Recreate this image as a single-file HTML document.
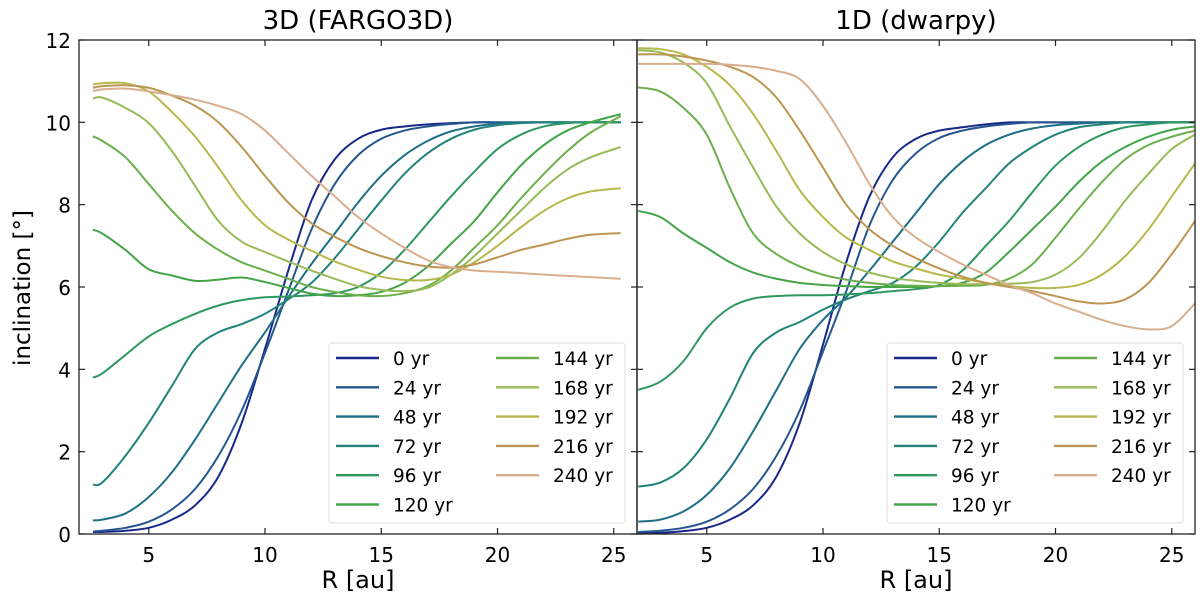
<!DOCTYPE html>
<html><head><meta charset="utf-8"><style>
html,body{margin:0;padding:0;background:#fff;}
svg{display:block;font-family:"DejaVu Sans","Liberation Sans",sans-serif;}
</style></head><body>
<svg id="chart" width="1200" height="604" viewBox="0 0 1200 604"></svg>
<script>
const labels = ["0 yr","24 yr","48 yr","72 yr","96 yr","120 yr","144 yr","168 yr","192 yr","216 yr","240 yr"];
const colors = ["#18288a","#25568f","#1f6f86","#21837a","#2f9860","#44a548","#6aaf4c","#98bb58","#b7b84c","#bb9552","#d9ae8e"];
const xTicks = [5,10,15,20,25];
const yTicks = [0,2,4,6,8,10,12];
const panelTitles = ["3D (FARGO3D)","1D (dwarpy)"];

// Left panel (3D) radius grid and series
const rL = [2.6,3,4,5,6,7,8,9,10,11,12,13,14,15,16,17,18,19,20,21,22,23,24,25.3];
const seriesL = [
 [0.05,0.05,0.08,0.15,0.35,0.7,1.4,2.7,4.5,6.4,8.1,9.1,9.6,9.82,9.9,9.95,9.98,10,10,10,10,10,10,10],
 [0.06,0.08,0.15,0.3,0.6,1.1,1.9,3.0,4.4,5.9,7.4,8.5,9.2,9.6,9.8,9.9,9.96,10,10,10,10,10,10,10],
 [0.33,0.35,0.5,0.9,1.5,2.3,3.2,4.1,4.9,5.75,6.56,7.3,8.05,8.7,9.2,9.55,9.78,9.9,9.97,10,10,10,10,10],
 [1.2,1.25,1.9,2.7,3.6,4.5,4.9,5.1,5.35,5.7,6.1,6.7,7.4,8.1,8.75,9.25,9.6,9.82,9.93,9.98,10,10,10,10],
 [3.8,3.9,4.35,4.8,5.1,5.35,5.55,5.68,5.75,5.77,5.8,5.85,6.0,6.35,6.9,7.55,8.2,8.8,9.35,9.7,9.9,9.98,10,10],
 [7.39,7.3,6.9,6.43,6.28,6.15,6.18,6.23,6.12,5.98,5.84,5.78,5.8,5.88,6.1,6.5,7.05,7.6,8.3,8.95,9.45,9.8,10.0,10.2],
 [9.66,9.55,9.15,8.5,7.85,7.3,6.9,6.6,6.4,6.2,6.0,5.88,5.8,5.78,5.85,6.02,6.4,6.95,7.5,8.15,8.75,9.3,9.75,10.15],
 [10.58,10.6,10.35,9.98,9.3,8.45,7.6,7.1,6.85,6.62,6.4,6.2,6.02,5.93,5.9,5.98,6.3,6.75,7.3,7.85,8.4,8.85,9.15,9.4],
 [10.92,10.95,10.95,10.75,10.25,9.65,8.9,8.1,7.5,7.15,6.88,6.62,6.42,6.25,6.17,6.17,6.3,6.6,7.0,7.45,7.85,8.15,8.32,8.4],
 [10.84,10.88,10.9,10.84,10.65,10.4,10.0,9.4,8.7,8.05,7.55,7.22,6.95,6.75,6.6,6.5,6.47,6.55,6.72,6.9,7.03,7.17,7.27,7.31],
 [10.76,10.8,10.82,10.75,10.66,10.55,10.4,10.2,9.8,9.25,8.7,8.2,7.7,7.3,6.95,6.65,6.48,6.4,6.37,6.34,6.3,6.27,6.24,6.2]
];

// Right panel (1D) radius grid and series
const rR = [2.05,3,4,5,6,7,8,9,10,11,12,13,14,15,16,17,18,19,20,21,22,23,24,25,26];
const seriesR = [
 [0.02,0.03,0.07,0.15,0.35,0.7,1.4,2.7,4.6,6.6,8.2,9.15,9.6,9.8,9.88,9.95,10,10,10,10,10,10,10,10,10],
 [0.05,0.08,0.15,0.3,0.6,1.1,1.9,3.0,4.43,5.9,7.5,8.6,9.25,9.62,9.8,9.9,9.96,10,10,10,10,10,10,10,10],
 [0.3,0.35,0.55,0.95,1.6,2.5,3.5,4.5,5.2,5.75,6.4,7.1,7.8,8.5,9.05,9.45,9.7,9.85,9.93,9.97,10,10,10,10,10],
 [1.15,1.25,1.6,2.3,3.3,4.4,4.9,5.15,5.45,5.7,5.9,6.1,6.5,7.1,7.8,8.4,9.0,9.4,9.7,9.88,9.95,10,10,10,10],
 [3.5,3.7,4.2,5.0,5.5,5.72,5.78,5.8,5.8,5.82,5.85,5.9,5.95,6.05,6.4,7.0,7.6,8.3,8.95,9.4,9.7,9.88,9.95,10,10],
 [7.85,7.7,7.3,6.95,6.6,6.35,6.2,6.1,6.05,6.02,6.0,6.0,6.0,6.02,6.1,6.35,6.85,7.4,7.95,8.55,9.05,9.4,9.65,9.82,9.9],
 [10.85,10.75,10.35,9.7,8.4,7.3,6.8,6.5,6.3,6.18,6.1,6.05,6.03,6.02,6.03,6.05,6.2,6.55,7.2,7.9,8.55,9.1,9.45,9.65,9.8],
 [11.75,11.7,11.45,10.95,9.9,8.9,7.95,7.3,6.85,6.55,6.35,6.22,6.15,6.1,6.07,6.07,6.08,6.12,6.3,6.7,7.35,8.1,8.75,9.35,9.7],
 [11.8,11.78,11.65,11.35,10.9,10.2,9.3,8.35,7.7,7.2,6.9,6.62,6.45,6.3,6.2,6.1,6.02,5.98,5.98,6.05,6.3,6.75,7.4,8.2,9.0],
 [11.65,11.65,11.6,11.5,11.35,11.1,10.6,9.8,8.9,8.0,7.4,7.0,6.7,6.45,6.25,6.1,6.0,5.9,5.78,5.65,5.6,5.7,6.1,6.8,7.6],
 [11.42,11.42,11.42,11.42,11.4,11.35,11.25,11.05,10.4,9.5,8.5,7.7,7.2,6.85,6.55,6.3,6.05,5.85,5.6,5.4,5.2,5.05,4.97,5.05,5.6]
];

const NS = "http://www.w3.org/2000/svg";
const svg = document.getElementById("chart");
const X0 = 2.0, X1 = 26.0, Y0 = 0, Y1 = 12;
const panels = [{left:79, right:637, r:rL, s:seriesL}, {left:637, right:1195, r:rR, s:seriesR}];
const TOP = 40, BOT = 534;

function mk(tag, attrs, parent){ const e = document.createElementNS(NS, tag); for (const k in attrs) e.setAttribute(k, attrs[k]); (parent||svg).appendChild(e); return e; }
function sx(p, v){ return p.left + (v - X0) / (X1 - X0) * (p.right - p.left); }
function sy(v){ return BOT - (v - Y0) / (Y1 - Y0) * (BOT - TOP); }
function smoothPath(pts){
  let d = "M" + pts[0][0].toFixed(2) + "," + pts[0][1].toFixed(2);
  for (let i = 0; i < pts.length - 1; i++) {
    const p0 = pts[Math.max(0,i-1)], p1 = pts[i], p2 = pts[i+1], p3 = pts[Math.min(pts.length-1,i+2)];
    const c1x = p1[0] + (p2[0]-p0[0])/6, c1y = p1[1] + (p2[1]-p0[1])/6;
    const c2x = p2[0] - (p3[0]-p1[0])/6, c2y = p2[1] - (p3[1]-p1[1])/6;
    d += " C" + c1x.toFixed(2)+","+c1y.toFixed(2)+" "+c2x.toFixed(2)+","+c2y.toFixed(2)+" "+p2[0].toFixed(2)+","+p2[1].toFixed(2);
  }
  return d;
}

panels.forEach((p, pi) => {
  const g = mk("g", {});
  
  
  const clipId = "clip" + pi;
  const cp = mk("clipPath", {id: clipId}, g);
  mk("rect", {x: p.left, y: TOP, width: p.right - p.left, height: BOT - TOP}, cp);
  const lines = mk("g", {"clip-path": "url(#" + clipId + ")"}, g);
  p.s.forEach((vals, si) => {
    const pts = vals.map((v, i) => [sx(p, p.r[i]), sy(v)]);
    const path = mk("path", {d: smoothPath(pts), fill: "none", stroke: colors[si], "stroke-width": 2, "stroke-linejoin": "round"}, lines);
    
    
  });
  // legend
  const lx = p.right - 308, ly = 343;
  const leg = mk("g", {}, g);
  
  
  mk("rect", {x: lx, y: ly, width: 296, height: 180, rx: 3, fill: "#fff", "fill-opacity": 0.85, stroke: "#dcdcdc", "stroke-width": 1}, leg);
  labels.forEach((lab, si) => {
    const col = si < 6 ? 0 : 1, row = si < 6 ? si : si - 6;
    const x = lx + 7 + col * 160, y = ly + 15 + row * 29.3;
    const e = mk("g", {}, leg);
    
    
    mk("line", {x1: x, x2: x + 43, y1: y, y2: y, stroke: colors[si], "stroke-width": 2.4}, e);
    const t = mk("text", {x: x + 57, y: y + 7, "font-size": 18.5, fill: "#000"}, e);
    t.textContent = lab;
  });
  // axes frame
  const fr = mk("rect", {x: p.left, y: TOP, width: p.right - p.left, height: BOT - TOP, fill: "none", stroke: "#222", "stroke-width": 1.3}, g);
  
  
  xTicks.forEach(v => {
    const x = sx(p, v);
    mk("line", {x1: x, x2: x, y1: BOT, y2: BOT - 6, stroke: "#222", "stroke-width": 1.2}, g);
    mk("line", {x1: x, x2: x, y1: TOP, y2: TOP + 6, stroke: "#222", "stroke-width": 1.2}, g);
    const t = mk("text", {x: x, y: BOT + 28, "font-size": 20, "text-anchor": "middle"}, g);
    
    
    t.textContent = v;
  });
  yTicks.forEach(v => {
    const y = sy(v);
    mk("line", {x1: p.left, x2: p.left + 6, y1: y, y2: y, stroke: "#222", "stroke-width": 1.2}, g);
    mk("line", {x1: p.right, x2: p.right - 6, y1: y, y2: y, stroke: "#222", "stroke-width": 1.2}, g);
    if (pi === 0) {
      const t = mk("text", {x: p.left - 8, y: y + 8, "font-size": 20, "text-anchor": "end"}, g);
      
      
      t.textContent = v;
    }
  });
  const xl = mk("text", {x: (p.left + p.right) / 2, y: 588, "font-size": 24, "text-anchor": "middle"}, g);
  
  
  xl.textContent = "R [au]";
  const tt = mk("text", {x: (p.left + p.right) / 2, y: 29, "font-size": 26, "text-anchor": "middle"}, g);
  
  
  tt.textContent = panelTitles[pi];
});
const yl = mk("text", {x: 0, y: 0, "font-size": 23, "text-anchor": "middle", transform: "translate(30,288) rotate(-90)"});


yl.textContent = "inclination [°]";
</script>
</body></html>
